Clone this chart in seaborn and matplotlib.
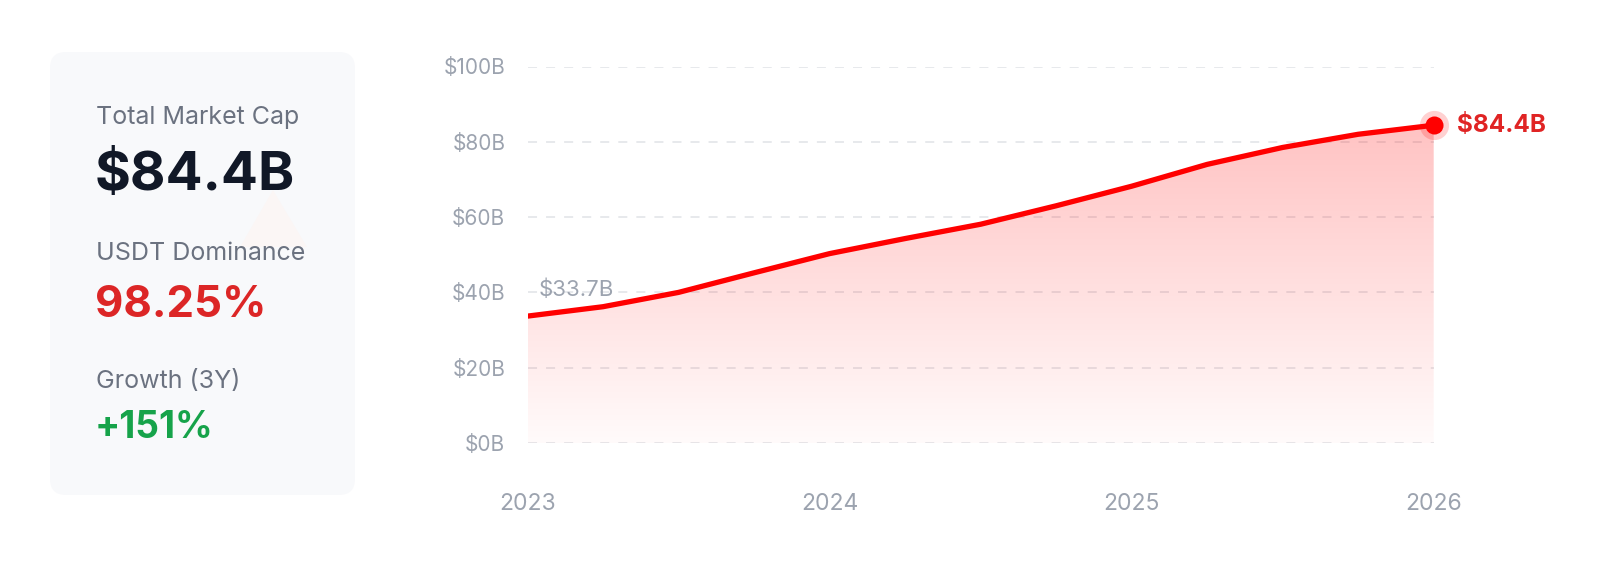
import numpy as np
import matplotlib
matplotlib.use("Agg")
import matplotlib.pyplot as plt
import seaborn as sns
import pandas as pd
from matplotlib.patches import FancyBboxPatch, Polygon

# data (quarterly, $B)
quarters = [2023.0, 2023.25, 2023.5, 2023.75, 2024.0, 2024.25, 2024.5,
            2024.75, 2025.0, 2025.25, 2025.5, 2025.75, 2026.0]
market_cap = [33.7, 36.2, 40.0, 45.2, 50.3, 54.3, 58.1,
              63.0, 68.2, 74.0, 78.5, 82.0, 84.4]
year_ticks = [2023, 2024, 2025, 2026]
value_ticks = [0, 20, 40, 60, 80, 100]

stat_labels = ["Total Market Cap", "USDT Dominance", "Growth (3Y)"]
stat_values = ["$84.4B", "98.25%", "+151%"]

W, H = 1600, 571
sns.set_theme(style="white")
plt.rcParams['font.family'] = ['Inter', 'DejaVu Sans']

fig = plt.figure(figsize=(W / 100, H / 100), dpi=100)
fig.patch.set_facecolor("white")


def fx(x):
    return x / W


def fy(y):
    return 1 - y / H


# left stats card
card = FancyBboxPatch((fx(50), fy(495)), fx(305), (495 - 52) / H,
                      boxstyle="round,pad=0,rounding_size=0.01",
                      mutation_aspect=W / H,
                      transform=fig.transFigure, facecolor="#f8f9fb",
                      edgecolor="none", zorder=0)
fig.patches.append(card)
# faint leftover arrow shape inside the card
tri = Polygon([(fx(273), fy(190)), (fx(240), fy(247)), (fx(307), fy(247))],
              closed=True, transform=fig.transFigure, facecolor="#fbf6f5",
              edgecolor="none", zorder=1)
fig.patches.append(tri)

label_kw = dict(color="#6b7280", fontsize=18, va="baseline", ha="left")
fig.text(fx(96), fy(124), stat_labels[0], **label_kw)
fig.text(fx(95), fy(190), stat_values[0], color="#111827", fontsize=39.5,
         fontweight="bold", va="baseline")
fig.text(fx(96), fy(260), stat_labels[1], **label_kw)
fig.text(fx(95), fy(316.7), stat_values[1], color="#dc2626", fontsize=31.5,
         fontweight="bold", va="baseline")
fig.text(fx(96), fy(388), stat_labels[2], **label_kw)
fig.text(fx(95), fy(438.3), stat_values[2], color="#16a34a", fontsize=26.8,
         fontweight="bold", va="baseline")

# chart
x0, x1 = 527.5, 1433.7
ytop, ybot = 66.5, 443.0
ax = fig.add_axes([fx(x0), fy(ybot), fx(x1 - x0), (ybot - ytop) / H])
ax.set_facecolor("none")

df = pd.DataFrame({"quarter": quarters, "cap": market_cap})

# gradient area under the line
poly = ax.fill_between(df["quarter"], df["cap"], 0, facecolor="none",
                       edgecolor="none")
grad = np.zeros((256, 2, 4))
grad[..., 0] = 1.0
alpha = np.linspace(0.28, 0.02, 256)
grad[..., 3] = alpha[:, None]
im = ax.imshow(grad, extent=[quarters[0], quarters[-1], 0, 100],
               aspect="auto", origin="upper", zorder=1, interpolation="bilinear")
im.set_clip_path(poly.get_paths()[0], transform=ax.transData)

sns.lineplot(data=df, x="quarter", y="cap", ax=ax, color="#ff0000",
             linewidth=3.8, zorder=3, solid_capstyle="round")

# end point highlight
ax.plot(quarters[-1], market_cap[-1], "o", ms=21, color="#ff0000",
        alpha=0.18, mec="none", clip_on=False, zorder=4)
ax.plot(quarters[-1], market_cap[-1], "o", ms=13, color="#ff0000",
        mec="none", clip_on=False, zorder=5)
ax.annotate(stat_values[0], (quarters[-1], market_cap[-1]),
            xytext=(17, 0), textcoords="offset points", va="center",
            ha="left", color="#e02424", fontsize=17.5, fontweight="bold",
            annotation_clip=False)
ax.annotate(f"${market_cap[0]}B", (quarters[0], market_cap[0]),
            xytext=(8, 19), textcoords="offset points", va="center",
            ha="left", color="#9ca3af", fontsize=16, annotation_clip=False,
            zorder=2)

ax.set_xlim(quarters[0], quarters[-1])
ax.set_ylim(0, 100)
ax.set_xticks(year_ticks)
ax.set_xticklabels([str(y) for y in year_ticks])
ax.set_yticks(value_ticks)
ax.set_yticklabels([f"${v}B" for v in value_ticks])
ax.tick_params(axis="y", length=0, pad=16, labelsize=15, labelcolor="#9ca3af")
ax.tick_params(axis="x", length=0, pad=36, labelsize=16.5, labelcolor="#9ca3af")
ax.set_xlabel("")
ax.set_ylabel("")
for s in ax.spines.values():
    s.set_visible(False)
ax.grid(axis="y", color="#e5e7eb", linestyle=(0, (5, 5)), linewidth=1.3,
        zorder=0)
ax.grid(axis="x", visible=False)
ax.set_axisbelow(True)

fig.savefig("out.png", dpi=100, facecolor="white")
